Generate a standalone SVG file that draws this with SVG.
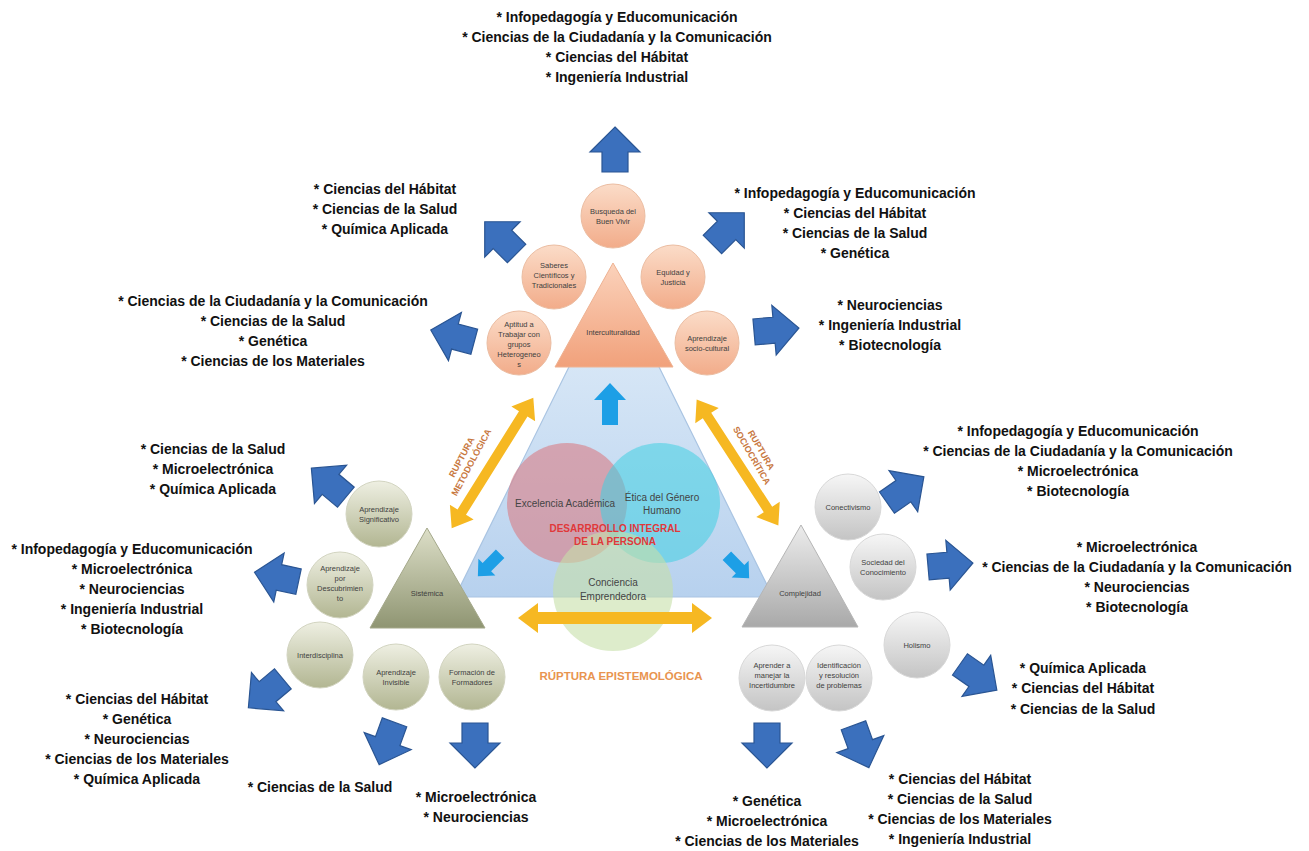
<svg xmlns="http://www.w3.org/2000/svg" width="1309" height="851" viewBox="0 0 1309 851">
<style>
.lst{font-family:"Liberation Sans",Arial,sans-serif;font-weight:bold;font-size:14px;fill:#111;text-anchor:middle}
.ct{font-family:"Liberation Sans",Arial,sans-serif;font-size:7.5px;fill:#3f3f3f;text-anchor:middle}
.cc{font-family:"Liberation Sans",Arial,sans-serif;font-size:10px;fill:#444;text-anchor:middle}
.dev{font-family:"Liberation Sans",Arial,sans-serif;font-size:10px;font-weight:bold;fill:#e0383a;text-anchor:middle}
.rup{font-family:"Liberation Sans",Arial,sans-serif;font-size:9px;font-weight:bold;fill:#c8783f;text-anchor:middle}
.rupb{font-family:"Liberation Sans",Arial,sans-serif;font-size:11.5px;font-weight:bold;fill:#e8944f;text-anchor:middle}
.ba{fill:#3b70bd;stroke:#2a5593;stroke-width:1.2}
.sa{fill:#1d9fe6}
.ya{fill:#f6b822}
.oc{fill:url(#gO);stroke:#ebbda2;stroke-width:1}
.gc{fill:url(#gG);stroke:#d2d4c0;stroke-width:1}
.kc{fill:url(#gK);stroke:#d8d8d8;stroke-width:1}
</style>
<defs>
<linearGradient id="gO" x1="0" y1="0" x2="0" y2="1"><stop offset="0" stop-color="#fbdcc8"/><stop offset="1" stop-color="#f2ac8a"/></linearGradient>
<linearGradient id="gG" x1="0" y1="0" x2="0" y2="1"><stop offset="0" stop-color="#eeefe2"/><stop offset="1" stop-color="#b2b692"/></linearGradient>
<linearGradient id="gK" x1="0" y1="0" x2="0" y2="1"><stop offset="0" stop-color="#f6f6f6"/><stop offset="1" stop-color="#c4c4c4"/></linearGradient>
<linearGradient id="tO" x1="0" y1="0" x2="0" y2="1"><stop offset="0" stop-color="#fbd2bb"/><stop offset="1" stop-color="#f1a17b"/></linearGradient>
<linearGradient id="tG" x1="0" y1="0" x2="0" y2="1"><stop offset="0" stop-color="#dddfc8"/><stop offset="1" stop-color="#8f9572"/></linearGradient>
<linearGradient id="tK" x1="0" y1="0" x2="0" y2="1"><stop offset="0" stop-color="#ececec"/><stop offset="1" stop-color="#a9a9a9"/></linearGradient>
<linearGradient id="tB" x1="0" y1="0" x2="0" y2="1"><stop offset="0" stop-color="#e2eef9"/><stop offset="1" stop-color="#b7d1ee"/></linearGradient>
<path id="bigArrow" d="M0,-23 L25,2 L13,2 L13,22 L-13,22 L-13,2 L-25,2 Z"/>
<path id="smallArrow" d="M0,-21 L16,-4 L8,-4 L8,21 L-8,21 L-8,-4 L-16,-4 Z"/>
</defs>
<rect width="1309" height="851" fill="#ffffff"/>

<g id="center">
<polygon points="614,276 455,597 773,597" fill="url(#tB)" stroke="#a9c4e2" stroke-width="1.2"/>
<circle cx="567" cy="503" r="60" fill="#d97f88" fill-opacity="0.62"/>
<circle cx="660" cy="503" r="60" fill="#3fd0e2" fill-opacity="0.55"/>
<circle cx="613" cy="591" r="60" fill="#c6e0a8" fill-opacity="0.6"/>
<text class="cc" x="565" y="507">Excelencia Académica</text>
<text class="cc" x="662" y="501">Ética del Género</text>
<text class="cc" x="662" y="514">Humano</text>
<text class="dev" x="615" y="532">DESARRROLLO INTEGRAL</text>
<text class="dev" x="615" y="545">DE LA PERSONA</text>
<text class="cc" x="613" y="586">Conciencia</text>
<text class="cc" x="613" y="600">Emprendedora</text>
</g>

<g id="interculturalidad">
<polygon points="613,263 555,367 673,367" fill="url(#tO)" stroke="#eeb292" stroke-width="1"/>
<text class="ct" x="613" y="335">Interculturalidad</text>
</g>
<g id="busqueda"><circle class="oc" cx="613" cy="216" r="32"/><text class="ct" x="613" y="214">Busqueda del</text><text class="ct" x="613" y="224">Buen Vivir</text></g>
<g id="saberes"><circle class="oc" cx="554" cy="277" r="32"/><text class="ct" x="554" y="268">Saberes</text><text class="ct" x="554" y="278">Científicos y</text><text class="ct" x="554" y="288">Tradicionales</text></g>
<g id="equidad"><circle class="oc" cx="673" cy="277" r="32"/><text class="ct" x="673" y="275">Equidad y</text><text class="ct" x="673" y="285">Justicia</text></g>
<g id="aptitud"><circle class="oc" cx="519" cy="343" r="32"/><text class="ct" x="519" y="327">Aptitud a</text><text class="ct" x="519" y="337">Trabajar con</text><text class="ct" x="519" y="347">grupos</text><text class="ct" x="519" y="357">Heterogeneo</text><text class="ct" x="519" y="367">s</text></g>
<g id="sociocultural"><circle class="oc" cx="707" cy="343" r="32"/><text class="ct" x="707" y="341">Aprendizaje</text><text class="ct" x="707" y="351">socio-cultural</text></g>

<g id="sistemica">
<polygon points="427,528 370,628 485,628" fill="url(#tG)" stroke="#a4a88a" stroke-width="1"/>
<text class="ct" x="427" y="596">Sistémica</text>
</g>
<g id="significativo"><circle class="gc" cx="379" cy="514" r="33"/><text class="ct" x="379" y="512">Aprendizaje</text><text class="ct" x="379" y="522">Significativo</text></g>
<g id="descubrimiento"><circle class="gc" cx="340" cy="585" r="33"/><text class="ct" x="340" y="571">Aprendizaje</text><text class="ct" x="340" y="581">por</text><text class="ct" x="340" y="591">Descubrimien</text><text class="ct" x="340" y="601">to</text></g>
<g id="interdisciplina"><circle class="gc" cx="320" cy="655" r="33"/><text class="ct" x="320" y="658">Interdisciplina</text></g>
<g id="invisible"><circle class="gc" cx="396" cy="677" r="33"/><text class="ct" x="396" y="675">Aprendizaje</text><text class="ct" x="396" y="685">Invisible</text></g>
<g id="formacion"><circle class="gc" cx="472" cy="677" r="33"/><text class="ct" x="472" y="675">Formación de</text><text class="ct" x="472" y="685">Formadores</text></g>

<g id="complejidad">
<polygon points="801,525 742,627 858,627" fill="url(#tK)" stroke="#b5b5b5" stroke-width="1"/>
<text class="ct" x="800" y="596">Complejidad</text>
</g>
<g id="conectivismo"><circle class="kc" cx="848" cy="507" r="33"/><text class="ct" x="848" y="510">Conectivismo</text></g>
<g id="sociedad"><circle class="kc" cx="883" cy="567" r="33"/><text class="ct" x="883" y="565">Sociedad del</text><text class="ct" x="883" y="575">Conocimiento</text></g>
<g id="holismo"><circle class="kc" cx="917" cy="645" r="33"/><text class="ct" x="917" y="648">Holismo</text></g>
<g id="incertidumbre"><circle class="kc" cx="772" cy="678" r="33"/><text class="ct" x="772" y="668">Aprender a</text><text class="ct" x="772" y="678">manejar la</text><text class="ct" x="772" y="688">Incertidumbre</text></g>
<g id="identificacion"><circle class="kc" cx="839" cy="678" r="33"/><text class="ct" x="839" y="668">Identificación</text><text class="ct" x="839" y="678">y resolución</text><text class="ct" x="839" y="688">de problemas</text></g>

<g id="connectors">
<use href="#smallArrow" class="sa" transform="translate(610,404)"/>
<use href="#smallArrow" class="sa" transform="translate(489,565) rotate(-135) scale(0.75)"/>
<use href="#smallArrow" class="sa" transform="translate(738,567) rotate(135) scale(0.75)"/>
<path class="ya" transform="translate(615,618)" d="M-97,0 L-77,-15 L-77,-6 L77,-6 L77,-15 L97,0 L77,15 L77,6 L-77,6 L-77,15 Z"/>
<path class="ya" transform="translate(492.5,463) rotate(-58)" d="M-77,0 L-58,-14 L-58,-5 L58,-5 L58,-14 L77,0 L58,14 L58,5 L-58,5 L-58,14 Z"/>
<path class="ya" transform="translate(737.5,462.5) rotate(57)" d="M-75,0 L-56,-14 L-56,-5 L56,-5 L56,-14 L75,0 L56,14 L56,5 L-56,5 L-56,14 Z"/>
<use href="#bigArrow" class="ba" transform="translate(615,150)"/>
<use href="#bigArrow" class="ba" transform="translate(501,238) rotate(-45)"/>
<use href="#bigArrow" class="ba" transform="translate(453,336) rotate(-75)"/>
<use href="#bigArrow" class="ba" transform="translate(728,229) rotate(45)"/>
<use href="#bigArrow" class="ba" transform="translate(776,330) rotate(85)"/>
<use href="#bigArrow" class="ba" transform="translate(329,483) rotate(-50)"/>
<use href="#bigArrow" class="ba" transform="translate(277,577) rotate(-78)"/>
<use href="#bigArrow" class="ba" transform="translate(266,693) rotate(-130)"/>
<use href="#bigArrow" class="ba" transform="translate(387,743) rotate(200)"/>
<use href="#bigArrow" class="ba" transform="translate(475,745) rotate(180)"/>
<use href="#bigArrow" class="ba" transform="translate(767,745) rotate(180)"/>
<use href="#bigArrow" class="ba" transform="translate(861,746) rotate(160)"/>
<use href="#bigArrow" class="ba" transform="translate(905,490) rotate(55)"/>
<use href="#bigArrow" class="ba" transform="translate(950,565) rotate(85)"/>
<use href="#bigArrow" class="ba" transform="translate(978,677) rotate(125)"/>
</g>

<g id="rupturas">
<g transform="translate(467,460) rotate(-62)"><text class="rup" x="0" y="-3">RUPTURA</text><text class="rup" x="0" y="8">METODOLÓGICA</text></g>
<g transform="translate(756,453) rotate(60)"><text class="rup" x="0" y="-3">RUPTURA</text><text class="rup" x="0" y="8">SOCIOCRÍTICA</text></g>
<text class="rupb" x="621" y="680">RÚPTURA EPISTEMOLÓGICA</text>
</g>

<g id="list-top"><text class="lst" x="617" y="22">* Infopedagogía y Educomunicación</text><text class="lst" x="617" y="42">* Ciencias de la Ciudadanía y la Comunicación</text><text class="lst" x="617" y="62">* Ciencias del Hábitat</text><text class="lst" x="617" y="82">* Ingeniería Industrial</text></g>
<g id="list-ul"><text class="lst" x="385" y="194">* Ciencias del Hábitat</text><text class="lst" x="385" y="214">* Ciencias de la Salud</text><text class="lst" x="385" y="234">* Química Aplicada</text></g>
<g id="list-l1"><text class="lst" x="273" y="306">* Ciencias de la Ciudadanía y la Comunicación</text><text class="lst" x="273" y="326">* Ciencias de la Salud</text><text class="lst" x="273" y="346">* Genética</text><text class="lst" x="273" y="366">* Ciencias de los Materiales</text></g>
<g id="list-ur"><text class="lst" x="855" y="198">* Infopedagogía y Educomunicación</text><text class="lst" x="855" y="218">* Ciencias del Hábitat</text><text class="lst" x="855" y="238">* Ciencias de la Salud</text><text class="lst" x="855" y="258">* Genética</text></g>
<g id="list-r1"><text class="lst" x="890" y="310">* Neurociencias</text><text class="lst" x="890" y="330">* Ingeniería Industrial</text><text class="lst" x="890" y="350">* Biotecnología</text></g>
<g id="list-l2"><text class="lst" x="213" y="454">* Ciencias de la Salud</text><text class="lst" x="213" y="474">* Microelectrónica</text><text class="lst" x="213" y="494">* Química Aplicada</text></g>
<g id="list-l3"><text class="lst" x="132" y="554">* Infopedagogía y Educomunicación</text><text class="lst" x="132" y="574">* Microelectrónica</text><text class="lst" x="132" y="594">* Neurociencias</text><text class="lst" x="132" y="614">* Ingeniería Industrial</text><text class="lst" x="132" y="634">* Biotecnología</text></g>
<g id="list-l4"><text class="lst" x="137" y="704">* Ciencias del Hábitat</text><text class="lst" x="137" y="724">* Genética</text><text class="lst" x="137" y="744">* Neurociencias</text><text class="lst" x="137" y="764">* Ciencias de los Materiales</text><text class="lst" x="137" y="784">* Química Aplicada</text></g>
<g id="list-b1"><text class="lst" x="320" y="792">* Ciencias de la Salud</text></g>
<g id="list-b2"><text class="lst" x="476" y="802">* Microelectrónica</text><text class="lst" x="476" y="822">* Neurociencias</text></g>
<g id="list-b3"><text class="lst" x="767" y="806">* Genética</text><text class="lst" x="767" y="826">* Microelectrónica</text><text class="lst" x="767" y="846">* Ciencias de los Materiales</text></g>
<g id="list-b4"><text class="lst" x="960" y="784">* Ciencias del Hábitat</text><text class="lst" x="960" y="804">* Ciencias de la Salud</text><text class="lst" x="960" y="824">* Ciencias de los Materiales</text><text class="lst" x="960" y="844">* Ingeniería Industrial</text></g>
<g id="list-r2"><text class="lst" x="1078" y="436">* Infopedagogía y Educomunicación</text><text class="lst" x="1078" y="456">* Ciencias de la Ciudadanía y la Comunicación</text><text class="lst" x="1078" y="476">* Microelectrónica</text><text class="lst" x="1078" y="496">* Biotecnología</text></g>
<g id="list-r3"><text class="lst" x="1137" y="552">* Microelectrónica</text><text class="lst" x="1137" y="572">* Ciencias de la Ciudadanía y la Comunicación</text><text class="lst" x="1137" y="592">* Neurociencias</text><text class="lst" x="1137" y="612">* Biotecnología</text></g>
<g id="list-r4"><text class="lst" x="1083" y="673">* Química Aplicada</text><text class="lst" x="1083" y="693">* Ciencias del Hábitat</text><text class="lst" x="1083" y="714">* Ciencias de la Salud</text></g>
</svg>
